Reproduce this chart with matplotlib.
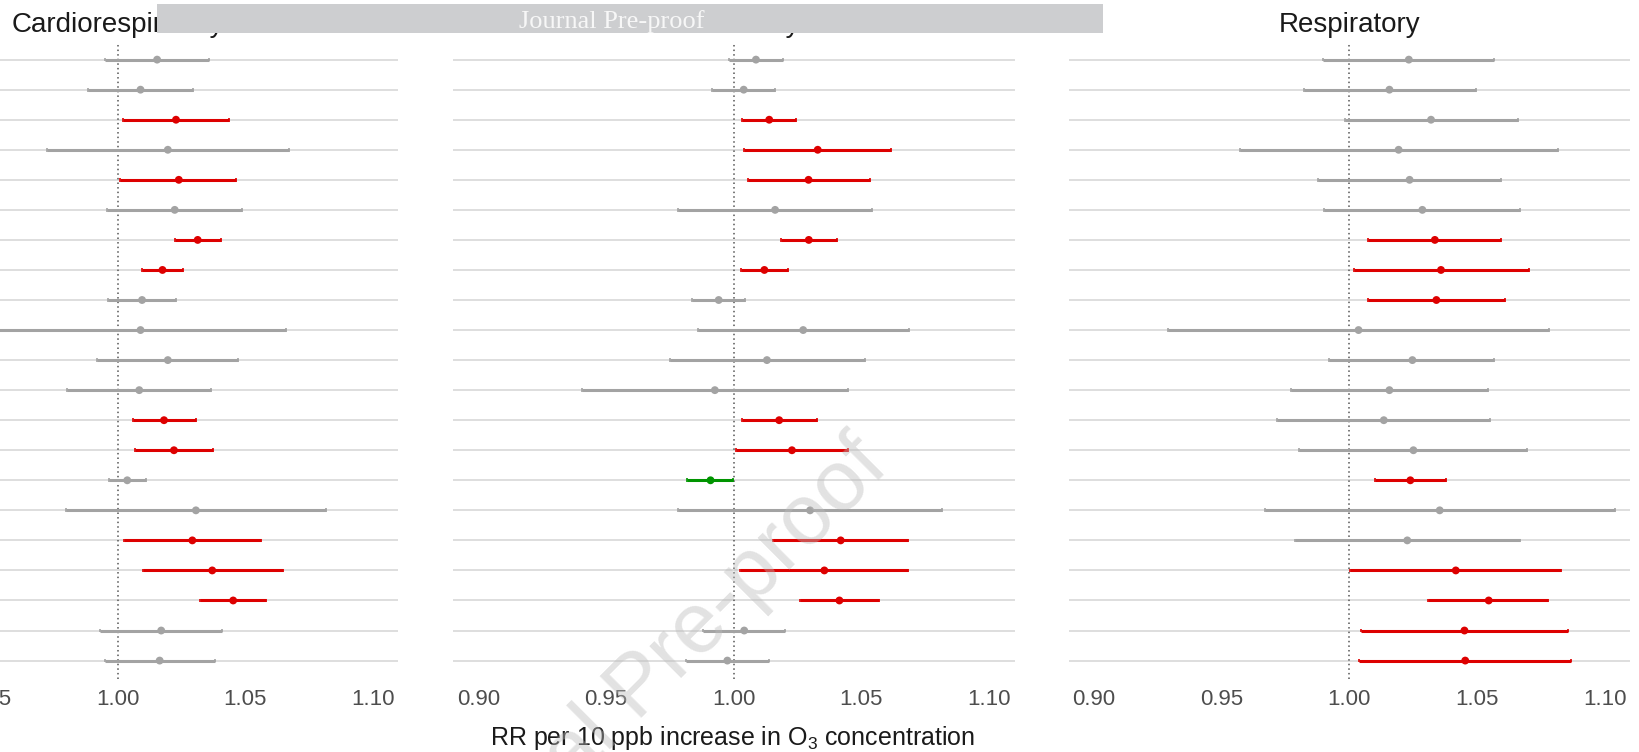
import matplotlib
matplotlib.use("Agg")
import matplotlib.pyplot as plt
from matplotlib.patches import Rectangle

plt.rcParams['font.family'] = ['Liberation Sans', 'DejaVu Sans']
plt.rcParams['mathtext.fontset'] = 'custom'
plt.rcParams['mathtext.rm'] = 'Liberation Sans'
plt.rcParams['mathtext.it'] = 'Liberation Sans:italic'

# rows, top to bottom
rows = list(range(21, 0, -1))

cardio_rr = [1.0155, 1.0090, 1.0229, 1.0197, 1.0240, 1.0224, 1.0314, 1.0176, 1.0096, 1.0090, 1.0197,
             1.0085, 1.0182, 1.0221, 1.0038, 1.0307, 1.0293, 1.0371, 1.0453, 1.0171, 1.0165]
cardio_lo = [0.9952, 0.9883, 1.0023, 0.9723, 1.0010, 0.9958, 1.0224, 1.0094, 0.9964, 0.9519, 0.9921,
             0.9803, 1.0059, 1.0068, 0.9967, 0.9798, 1.0026, 1.0099, 1.0324, 0.9932, 0.9949]
cardio_hi = [1.0358, 1.0297, 1.0435, 1.0671, 1.0466, 1.0488, 1.0405, 1.0257, 1.0228, 1.0661, 1.0473,
             1.0365, 1.0307, 1.0375, 1.0111, 1.0818, 1.0561, 1.0647, 1.0582, 1.0408, 1.0382]

circ_rr = [1.0087, 1.0039, 1.0139, 1.0329, 1.0293, 1.0162, 1.0294, 1.0120, 0.9941, 1.0272, 1.0130,
           0.9926, 1.0178, 1.0228, 0.9909, 1.0299, 1.0419, 1.0355, 1.0414, 1.0041, 0.9975]
circ_lo = [0.9980, 0.9916, 1.0033, 1.0042, 1.0054, 0.9781, 1.0186, 1.0028, 0.9836, 0.9859, 0.9749,
           0.9404, 1.0032, 1.0009, 0.9817, 0.9783, 1.0154, 1.0026, 1.0261, 0.9878, 0.9812]
circ_hi = [1.0194, 1.0162, 1.0245, 1.0616, 1.0532, 1.0543, 1.0403, 1.0213, 1.0045, 1.0687, 1.0513,
           1.0448, 1.0326, 1.0446, 0.9998, 1.0816, 1.0683, 1.0684, 1.0570, 1.0201, 1.0139]

resp_rr = [1.0233, 1.0157, 1.0320, 1.0193, 1.0236, 1.0286, 1.0335, 1.0359, 1.0341, 1.0036, 1.0247,
           1.0157, 1.0135, 1.0251, 1.0239, 1.0354, 1.0227, 1.0417, 1.0546, 1.0451, 1.0454]
resp_lo = [0.9898, 0.9821, 0.9982, 0.9571, 0.9876, 0.9900, 1.0075, 1.0018, 1.0072, 0.9288, 0.9922,
           0.9770, 0.9717, 0.9804, 1.0100, 0.9668, 0.9786, 1.0004, 1.0309, 1.0046, 1.0037]
resp_hi = [1.0568, 1.0496, 1.0659, 1.0816, 1.0595, 1.0670, 1.0595, 1.0703, 1.0608, 1.0783, 1.0568,
           1.0544, 1.0550, 1.0695, 1.0380, 1.1040, 1.0667, 1.0830, 1.0780, 1.0857, 1.0870]

titles = ["Cardiorespiratory", "Circulatory", "Respiratory"]
xticks = [0.90, 0.95, 1.00, 1.05, 1.10]

W, H = 1639, 752
fig = plt.figure(figsize=(W / 100, H / 100), dpi=100)

# panel placement in pixels
lefts = [-163.2, 453.0, 1068.6]
pw = 561.5
top_px, bot_px = 41.6, 678.6

data = [(cardio_rr, cardio_lo, cardio_hi), (circ_rr, circ_lo, circ_hi), (resp_rr, resp_lo, resp_hi)]

for title, (rr, lo, hi), x0 in zip(titles, data, lefts):
    ax = fig.add_axes([x0 / W, 1 - bot_px / H, pw / W, (bot_px - top_px) / H])
    cols = []
    for l, h in zip(lo, hi):
        if l > 1:
            cols.append('#DD0000')
        elif h < 1:
            cols.append('#009400')
        else:
            cols.append('#A3A3A3')
    ax.axvline(1.0, color='#555555', lw=1.1, ls=(0, (1, 2)), zorder=1)
    ax.hlines(rows, lo, hi, colors=cols, lw=2.2, zorder=2)
    ax.scatter(lo, rows, marker='|', s=7, c=cols, linewidths=1.2, zorder=2)
    ax.scatter(hi, rows, marker='|', s=7, c=cols, linewidths=1.2, zorder=2)
    ax.scatter(rr, rows, s=32, c=cols, zorder=3, edgecolors='none')

    ax.set_xlim(0.89, 1.11)
    ax.set_ylim(0.4, 21.6)
    ax.set_yticks(rows)
    ax.set_yticklabels([])
    ax.set_xticks(xticks)
    ax.set_xticklabels(['%.2f' % t for t in xticks])
    ax.tick_params(axis='both', length=0)
    ax.tick_params(axis='x', labelsize=16, labelcolor='#4D4D4D', pad=7.5)
    ax.grid(axis='y', color='#DEDEDE', lw=1.4)
    ax.grid(axis='x', visible=False)
    ax.set_axisbelow(True)
    for s in ax.spines.values():
        s.set_visible(False)

    cx = (x0 + pw / 2) / W
    fig.text(cx, 1 - 31.5 / H, title, ha='center', va='baseline', fontsize=20, color='#1A1A1A')

fig.text(733 / W, 1 - 745 / H, r'RR per 10 ppb increase in O$_3$ concentration',
         ha='center', va='baseline', fontsize=18, color='#1A1A1A')

# journal banner
fig.add_artist(Rectangle((157 / W, 1 - 33.3 / H), (1103 - 157) / W, (33.3 - 4.5) / H,
                         transform=fig.transFigure, facecolor='#CDCED0', edgecolor='none', zorder=10))
fig.text(612 / W, 1 - 28 / H, 'Journal Pre-proof', ha='center', va='baseline',
         fontsize=19, color='#F7F7F7', family=['Liberation Serif'], zorder=11)

# diagonal watermark
fig.text(640 / W, 1 - 688 / H, 'Journal Pre-proof', ha='center', va='center', rotation=45,
         rotation_mode='anchor', fontsize=62, color='#BBBBBB', alpha=0.42, zorder=12)

fig.savefig('out.png', dpi=100)
